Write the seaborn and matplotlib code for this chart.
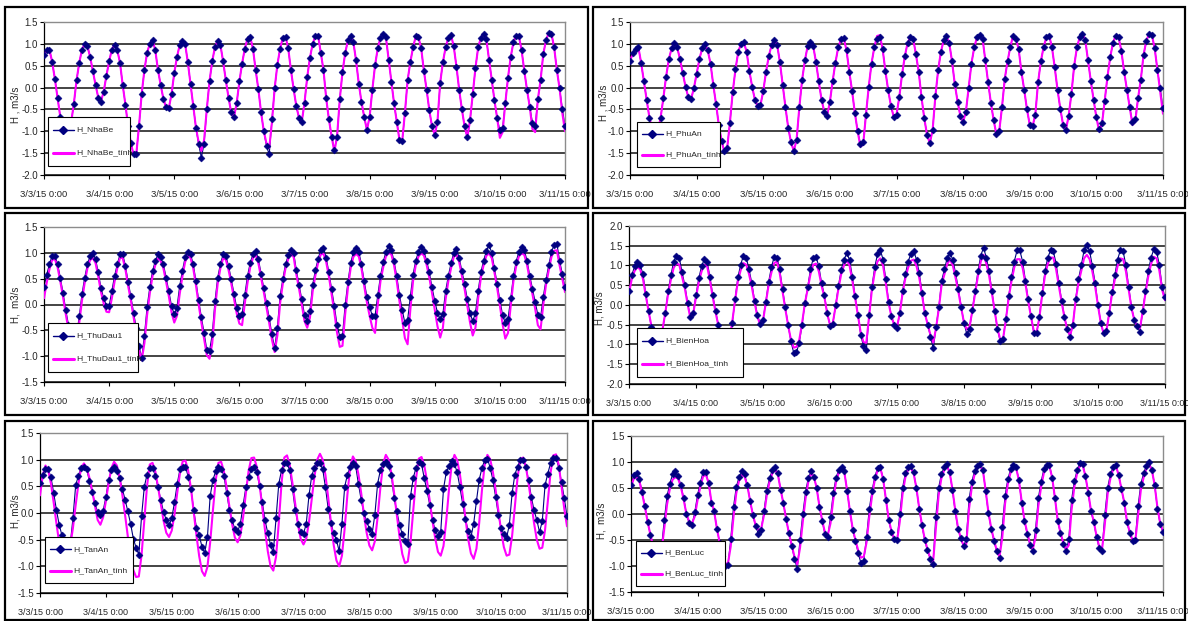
import numpy as np
import matplotlib
matplotlib.use("Agg")
import matplotlib.pyplot as plt
from matplotlib.lines import Line2D
from matplotlib.patches import Rectangle
from matplotlib import font_manager as fm
import seaborn as sns

# ---------------- data (hourly water levels, 3/3/15 0:00 .. 3/11/15 0:00) ----------------
date_labels = ["3/3/15 0:00", "3/4/15 0:00", "3/5/15 0:00", "3/6/15 0:00", "3/7/15 0:00",
               "3/8/15 0:00", "3/9/15 0:00", "3/10/15 0:00", "3/11/15 0:00"]
stations = ["NhaBe", "PhuAn", "ThuDau1", "BienHoa", "TanAn", "BenLuc"]

h_nhabe = [
    0.75, 0.85, 0.87, 0.59, 0.20, -0.24, -0.67, -0.95, -1.10, -1.05, -0.80, -0.37, 0.17, 0.57, 0.87, 1.00, 0.95, 0.70, 0.38, 0.06, -0.23, -0.32, -0.09, 0.27,
    0.60, 0.87, 0.98, 0.86, 0.57, 0.06, -0.39, -0.89, -1.27, -1.53, -1.53, -0.89, -0.14, 0.40, 0.80, 1.00, 1.08, 0.86, 0.40, 0.06, -0.26, -0.45, -0.47, -0.15,
    0.33, 0.70, 0.97, 1.07, 1.00, 0.58, 0.08, -0.43, -0.92, -1.30, -1.60, -1.28, -0.49, 0.15, 0.60, 0.93, 1.07, 0.98, 0.60, 0.17, -0.23, -0.57, -0.68, -0.36,
    0.14, 0.55, 0.89, 1.12, 1.16, 0.89, 0.40, -0.04, -0.57, -1.00, -1.34, -1.53, -0.73, -0.02, 0.52, 0.89, 1.14, 1.16, 0.90, 0.40, -0.04, -0.43, -0.70, -0.78,
    -0.35, 0.24, 0.68, 1.00, 1.17, 1.19, 0.79, 0.40, -0.25, -0.73, -1.12, -1.42, -1.12, -0.27, 0.36, 0.79, 1.08, 1.17, 1.04, 0.62, 0.09, -0.33, -0.67, -0.97,
    -0.67, -0.05, 0.51, 0.90, 1.14, 1.23, 1.15, 0.64, 0.13, -0.36, -0.78, -1.20, -1.23, -0.58, 0.17, 0.58, 0.92, 1.17, 1.15, 0.90, 0.38, -0.05, -0.52, -0.89,
    -1.08, -0.78, 0.11, 0.58, 0.92, 1.14, 1.20, 0.94, 0.48, -0.05, -0.50, -0.89, -1.14, -0.75, -0.15, 0.45, 0.92, 1.14, 1.23, 1.11, 0.64, 0.17, -0.29, -0.70,
    -0.98, -0.93, -0.36, 0.23, 0.70, 1.04, 1.19, 1.17, 0.86, 0.38, -0.05, -0.44, -0.80, -0.88, -0.27, 0.17, 0.77, 1.08, 1.25, 1.23, 0.92, 0.40, -0.02, -0.48,
    -0.88]
h_nhabe_tinh = [
    0.75, 0.85, 0.87, 0.59, 0.20, -0.24, -0.67, -0.95, -1.10, -1.05, -0.80, -0.37, 0.17, 0.57, 0.87, 1.00, 0.95, 0.70, 0.38, 0.06, -0.23, -0.32, -0.09, 0.27,
    0.60, 0.87, 0.98, 0.86, 0.57, 0.06, -0.39, -0.89, -1.27, -1.53, -1.53, -0.89, -0.14, 0.40, 0.80, 1.00, 1.08, 0.86, 0.40, 0.06, -0.26, -0.45, -0.47, -0.15,
    0.33, 0.70, 0.97, 1.07, 1.00, 0.58, 0.08, -0.43, -0.92, -1.25, -1.45, -1.20, -0.49, 0.15, 0.60, 0.93, 1.07, 0.98, 0.60, 0.17, -0.23, -0.57, -0.68, -0.36,
    0.14, 0.55, 0.89, 1.12, 1.16, 0.89, 0.40, -0.04, -0.57, -1.00, -1.28, -1.38, -0.80, -0.02, 0.52, 0.89, 1.14, 1.16, 0.90, 0.40, -0.04, -0.43, -0.70, -0.78,
    -0.35, 0.24, 0.68, 1.00, 1.17, 1.19, 0.79, 0.40, -0.25, -0.73, -1.12, -1.47, -1.12, -0.27, 0.36, 0.79, 1.08, 1.17, 1.04, 0.62, 0.09, -0.33, -0.67, -0.97,
    -0.67, -0.05, 0.51, 0.90, 1.14, 1.23, 1.15, 0.64, 0.13, -0.36, -0.78, -1.20, -1.23, -0.58, 0.17, 0.58, 0.92, 1.17, 1.15, 0.90, 0.38, -0.05, -0.52, -0.89,
    -1.08, -0.78, 0.11, 0.58, 0.92, 1.14, 1.20, 0.94, 0.48, -0.05, -0.50, -0.89, -1.14, -0.75, -0.15, 0.45, 0.92, 1.14, 1.23, 1.11, 0.64, 0.17, -0.29, -0.70,
    -1.15, -1.02, -0.36, 0.23, 0.70, 1.04, 1.19, 1.17, 0.86, 0.38, -0.05, -0.44, -0.95, -1.02, -0.27, 0.17, 0.77, 1.08, 1.25, 1.23, 0.92, 0.40, -0.02, -0.58,
    -1.00]

h_phuan = [
    0.60, 0.78, 0.88, 0.93, 0.57, 0.14, -0.28, -0.69, -0.95, -1.05, -1.00, -0.70, -0.25, 0.25, 0.65, 0.90, 1.02, 0.92, 0.65, 0.33, 0.02, -0.22, -0.26, -0.02,
    0.32, 0.65, 0.90, 1.00, 0.85, 0.55, 0.06, -0.38, -0.86, -1.22, -1.45, -1.38, -0.80, -0.10, 0.42, 0.82, 1.00, 1.04, 0.82, 0.38, 0.02, -0.28, -0.43, -0.40,
    -0.08, 0.36, 0.72, 0.97, 1.08, 0.98, 0.58, 0.06, -0.45, -0.92, -1.25, -1.45, -1.20, -0.45, 0.18, 0.62, 0.95, 1.04, 0.95, 0.58, 0.14, -0.28, -0.55, -0.64,
    -0.33, 0.15, 0.57, 0.92, 1.10, 1.13, 0.85, 0.36, -0.08, -0.58, -1.00, -1.28, -1.25, -0.62, 0.02, 0.55, 0.92, 1.12, 1.15, 0.88, 0.38, -0.06, -0.42, -0.67,
    -0.62, -0.22, 0.30, 0.72, 1.02, 1.15, 1.12, 0.76, 0.36, -0.22, -0.70, -1.08, -1.27, -0.98, -0.20, 0.40, 0.82, 1.08, 1.17, 1.02, 0.60, 0.08, -0.32, -0.65,
    -0.79, -0.55, 0.00, 0.55, 0.92, 1.15, 1.21, 1.12, 0.62, 0.12, -0.35, -0.75, -1.07, -1.00, -0.45, 0.20, 0.60, 0.93, 1.19, 1.12, 0.88, 0.36, -0.05, -0.50,
    -0.85, -0.89, -0.62, 0.12, 0.60, 0.93, 1.15, 1.19, 0.92, 0.46, -0.05, -0.48, -0.85, -0.98, -0.65, -0.15, 0.50, 0.92, 1.15, 1.23, 1.08, 0.62, 0.15, -0.28,
    -0.68, -0.94, -0.80, -0.30, 0.25, 0.70, 1.03, 1.19, 1.15, 0.84, 0.36, -0.05, -0.45, -0.79, -0.72, -0.25, 0.18, 0.75, 1.07, 1.23, 1.20, 0.90, 0.40, -0.02,
    -0.46]
h_phuan_tinh = [
    0.60, 0.78, 0.88, 0.93, 0.57, 0.14, -0.28, -0.69, -0.95, -1.05, -1.00, -0.70, -0.25, 0.25, 0.65, 0.90, 1.02, 0.92, 0.65, 0.33, 0.02, -0.22, -0.26, -0.02,
    0.32, 0.65, 0.90, 1.00, 0.85, 0.55, 0.06, -0.38, -0.86, -1.22, -1.48, -1.38, -0.80, -0.10, 0.42, 0.82, 1.00, 1.04, 0.82, 0.38, 0.02, -0.28, -0.43, -0.40,
    -0.08, 0.36, 0.72, 0.97, 1.08, 0.98, 0.58, 0.06, -0.45, -0.92, -1.25, -1.45, -1.20, -0.45, 0.18, 0.62, 0.95, 1.04, 0.95, 0.58, 0.14, -0.28, -0.55, -0.64,
    -0.33, 0.15, 0.57, 0.92, 1.10, 1.13, 0.85, 0.36, -0.08, -0.58, -1.00, -1.35, -1.30, -0.62, 0.02, 0.55, 0.92, 1.18, 1.20, 0.88, 0.38, -0.06, -0.42, -0.67,
    -0.62, -0.22, 0.30, 0.72, 1.02, 1.15, 1.12, 0.76, 0.36, -0.22, -0.70, -1.08, -1.27, -0.98, -0.20, 0.40, 0.82, 1.08, 1.17, 1.02, 0.60, 0.08, -0.32, -0.65,
    -0.79, -0.55, 0.00, 0.55, 0.92, 1.15, 1.21, 1.12, 0.62, 0.12, -0.35, -0.75, -1.07, -1.00, -0.45, 0.20, 0.60, 0.93, 1.19, 1.12, 0.88, 0.36, -0.05, -0.50,
    -0.85, -0.89, -0.62, 0.12, 0.60, 0.93, 1.15, 1.19, 0.92, 0.46, -0.05, -0.48, -0.85, -0.98, -0.65, -0.15, 0.50, 0.92, 1.15, 1.23, 1.08, 0.62, 0.15, -0.28,
    -0.68, -1.00, -0.85, -0.30, 0.25, 0.70, 1.03, 1.19, 1.15, 0.84, 0.36, -0.05, -0.45, -0.85, -0.78, -0.25, 0.18, 0.75, 1.07, 1.23, 1.20, 0.90, 0.40, -0.10,
    -0.60]

h_thudau1 = [
    0.34, 0.58, 0.78, 0.94, 0.94, 0.79, 0.52, 0.23, -0.10, -0.39, -0.62, -0.75, -0.60, -0.23, 0.20, 0.52, 0.78, 0.94, 0.99, 0.88, 0.62, 0.32, 0.12, -0.02,
    -0.03, 0.26, 0.55, 0.78, 0.97, 0.97, 0.75, 0.44, 0.16, -0.16, -0.45, -0.80, -1.04, -0.60, -0.05, 0.34, 0.65, 0.84, 0.97, 0.91, 0.78, 0.52, 0.26, -0.03,
    -0.19, -0.06, 0.36, 0.65, 0.91, 1.02, 0.97, 0.78, 0.45, 0.08, -0.25, -0.55, -0.88, -0.90, -0.58, 0.06, 0.52, 0.78, 0.97, 0.94, 0.75, 0.49, 0.21, -0.06,
    -0.23, -0.19, 0.19, 0.55, 0.81, 0.97, 1.04, 0.88, 0.60, 0.32, 0.03, -0.26, -0.58, -0.84, -0.45, 0.16, 0.49, 0.78, 0.95, 1.05, 1.00, 0.66, 0.38, 0.10,
    -0.20, -0.32, -0.12, 0.38, 0.66, 0.88, 1.06, 1.10, 0.90, 0.62, 0.30, -0.03, -0.40, -0.62, -0.60, 0.00, 0.43, 0.80, 1.01, 1.09, 1.02, 0.78, 0.45, 0.15,
    -0.05, -0.22, -0.22, 0.18, 0.55, 0.82, 1.02, 1.14, 1.05, 0.84, 0.55, 0.18, -0.10, -0.36, -0.30, 0.15, 0.58, 0.85, 1.02, 1.11, 1.03, 0.85, 0.62, 0.33,
    0.07, -0.16, -0.29, -0.18, 0.26, 0.55, 0.80, 1.00, 1.08, 0.90, 0.65, 0.40, 0.10, -0.17, -0.32, -0.17, 0.27, 0.62, 0.85, 1.03, 1.16, 1.00, 0.70, 0.40,
    0.08, -0.20, -0.36, -0.28, 0.12, 0.55, 0.83, 1.02, 1.11, 1.05, 0.85, 0.56, 0.30, 0.05, -0.20, -0.25, 0.15, 0.48, 0.76, 1.02, 1.15, 1.18, 0.85, 0.60,
    0.34]
h_thudau1_tinh = [
    0.12, 0.42, 0.68, 0.86, 0.88, 0.72, 0.45, 0.15, -0.18, -0.48, -0.72, -0.85, -0.72, -0.35, 0.08, 0.42, 0.70, 0.86, 0.90, 0.80, 0.54, 0.24, 0.02, -0.14,
    -0.15, 0.12, 0.44, 0.70, 0.90, 0.90, 0.68, 0.36, 0.08, -0.24, -0.55, -0.88, -1.08, -0.75, -0.20, 0.22, 0.55, 0.76, 0.89, 0.84, 0.70, 0.44, 0.16, -0.15,
    -0.35, -0.22, 0.20, 0.54, 0.82, 0.95, 0.90, 0.70, 0.37, 0.00, -0.35, -0.66, -0.98, -1.05, -0.75, -0.10, 0.40, 0.70, 0.89, 0.87, 0.67, 0.41, 0.12, -0.17,
    -0.37, -0.40, 0.02, 0.42, 0.72, 0.90, 0.96, 0.80, 0.52, 0.24, -0.06, -0.36, -0.68, -0.92, -0.60, 0.02, 0.40, 0.70, 0.88, 0.98, 0.92, 0.58, 0.30, 0.00,
    -0.32, -0.45, -0.26, 0.25, 0.56, 0.80, 0.97, 0.98, 0.82, 0.54, 0.20, -0.15, -0.55, -0.82, -0.80, -0.18, 0.32, 0.70, 0.92, 0.98, 0.93, 0.70, 0.36, 0.04,
    -0.22, -0.45, -0.55, 0.00, 0.45, 0.72, 0.93, 1.00, 0.97, 0.76, 0.45, 0.06, -0.30, -0.65, -0.77, -0.10, 0.45, 0.76, 0.93, 0.99, 0.95, 0.77, 0.52, 0.22,
    -0.10, -0.42, -0.64, -0.45, 0.10, 0.45, 0.70, 0.92, 0.97, 0.82, 0.56, 0.30, -0.02, -0.35, -0.60, -0.45, 0.12, 0.52, 0.76, 0.94, 0.99, 0.90, 0.62, 0.32,
    -0.02, -0.38, -0.66, -0.55, -0.02, 0.45, 0.74, 0.93, 0.99, 0.96, 0.77, 0.48, 0.20, -0.08, -0.40, -0.48, 0.00, 0.38, 0.66, 0.92, 1.04, 1.05, 0.76, 0.50,
    0.24]

h_bienhoa = [
    0.36, 0.75, 0.98, 1.09, 1.02, 0.78, 0.28, -0.15, -0.55, -0.90, -1.05, -0.95, -0.65, -0.20, 0.35, 0.75, 1.10, 1.25, 1.20, 0.83, 0.50, 0.05, -0.30, -0.20,
    0.26, 0.68, 0.98, 1.16, 1.10, 0.70, 0.25, -0.15, -0.50, -0.85, -1.10, -1.20, -0.95, -0.45, 0.15, 0.70, 1.02, 1.25, 1.20, 0.90, 0.55, 0.10, -0.25, -0.48,
    -0.38, 0.08, 0.58, 0.95, 1.22, 1.20, 0.90, 0.40, -0.06, -0.50, -0.92, -1.21, -1.20, -0.95, -0.50, 0.05, 0.45, 0.90, 1.18, 1.22, 0.98, 0.55, 0.25, -0.20,
    -0.52, -0.47, -0.01, 0.47, 0.89, 1.14, 1.31, 1.15, 0.72, 0.22, -0.25, -0.75, -1.05, -1.15, -0.25, 0.45, 0.95, 1.28, 1.40, 1.15, 0.65, 0.08, -0.28, -0.50,
    -0.58, -0.20, 0.35, 0.78, 1.10, 1.30, 1.36, 1.15, 0.80, 0.30, -0.20, -0.50, -0.80, -1.10, -0.55, -0.05, 0.62, 0.90, 1.20, 1.31, 1.15, 0.80, 0.40, -0.05,
    -0.45, -0.74, -0.60, -0.12, 0.35, 0.85, 1.25, 1.45, 1.20, 0.85, 0.35, -0.15, -0.62, -0.92, -0.85, -0.35, 0.22, 0.70, 1.10, 1.38, 1.38, 1.10, 0.62, 0.14,
    -0.28, -0.70, -0.72, -0.30, 0.30, 0.85, 1.20, 1.38, 1.36, 1.05, 0.55, 0.10, -0.30, -0.62, -0.80, -0.50, 0.15, 0.65, 1.00, 1.38, 1.52, 1.36, 0.98, 0.55,
    0.00, -0.45, -0.72, -0.65, -0.20, 0.32, 0.75, 1.15, 1.38, 1.36, 1.00, 0.45, -0.05, -0.38, -0.53, -0.68, -0.15, 0.35, 0.85, 1.20, 1.41, 1.35, 1.00, 0.45,
    0.21]
h_bienhoa_tinh = [
    0.30, 0.66, 0.86, 0.96, 0.90, 0.66, 0.24, -0.15, -0.52, -0.85, -1.00, -0.92, -0.62, -0.20, 0.28, 0.64, 0.94, 1.06, 1.02, 0.72, 0.42, 0.02, -0.34, -0.22,
    0.20, 0.58, 0.85, 1.02, 0.98, 0.62, 0.20, -0.18, -0.52, -0.84, -1.05, -1.10, -0.90, -0.42, 0.12, 0.60, 0.88, 1.06, 1.02, 0.78, 0.46, 0.06, -0.30, -0.50,
    -0.40, 0.05, 0.50, 0.82, 1.06, 1.10, 0.80, 0.34, -0.10, -0.52, -0.88, -1.08, -1.06, -0.88, -0.46, 0.04, 0.40, 0.78, 1.02, 1.05, 0.85, 0.48, 0.20, -0.22,
    -0.50, -0.46, -0.04, 0.40, 0.78, 1.00, 1.14, 1.00, 0.62, 0.18, -0.26, -0.70, -0.94, -0.96, -0.30, 0.38, 0.82, 1.10, 1.18, 1.00, 0.55, 0.05, -0.30, -0.50,
    -0.55, -0.22, 0.30, 0.68, 0.95, 1.12, 1.15, 0.98, 0.68, 0.24, -0.22, -0.50, -0.76, -0.95, -0.58, -0.08, 0.52, 0.78, 1.04, 1.15, 1.00, 0.68, 0.33, -0.07,
    -0.45, -0.62, -0.55, -0.14, 0.30, 0.74, 1.10, 1.27, 1.05, 0.74, 0.30, -0.16, -0.60, -0.88, -0.85, -0.38, 0.18, 0.60, 0.95, 1.16, 1.16, 0.94, 0.54, 0.10,
    -0.30, -0.66, -0.70, -0.32, 0.25, 0.74, 1.04, 1.20, 1.20, 0.90, 0.47, 0.06, -0.32, -0.62, -0.78, -0.50, 0.12, 0.56, 0.86, 1.18, 1.27, 1.16, 0.84, 0.46,
    -0.02, -0.45, -0.72, -0.66, -0.22, 0.27, 0.64, 0.98, 1.18, 1.16, 0.85, 0.38, -0.08, -0.38, -0.55, -0.60, -0.18, 0.30, 0.72, 1.04, 1.22, 1.18, 0.86, 0.38,
    0.12]

h_tanan = [
    0.57, 0.72, 0.82, 0.82, 0.67, 0.37, 0.05, -0.22, -0.42, -0.60, -0.72, -0.60, -0.10, 0.52, 0.70, 0.85, 0.87, 0.82, 0.60, 0.40, 0.18, 0.02, -0.04, 0.04,
    0.30, 0.62, 0.80, 0.86, 0.78, 0.65, 0.45, 0.25, 0.03, -0.20, -0.48, -0.65, -0.78, -0.06, 0.49, 0.72, 0.85, 0.85, 0.70, 0.48, 0.25, 0.02, -0.13, -0.23,
    -0.10, 0.20, 0.55, 0.82, 0.87, 0.87, 0.68, 0.45, 0.05, -0.28, -0.42, -0.63, -0.75, -0.45, 0.32, 0.62, 0.78, 0.86, 0.83, 0.70, 0.38, 0.06, -0.14, -0.30,
    -0.35, -0.20, 0.15, 0.48, 0.68, 0.82, 0.87, 0.76, 0.50, 0.20, -0.14, -0.38, -0.60, -0.74, -0.10, 0.55, 0.80, 0.93, 0.93, 0.80, 0.45, 0.05, -0.20, -0.35,
    -0.39, -0.20, 0.33, 0.70, 0.85, 0.94, 0.93, 0.82, 0.48, 0.08, -0.18, -0.38, -0.50, -0.72, -0.20, 0.49, 0.72, 0.86, 0.94, 0.88, 0.55, 0.25, 0.00, -0.15,
    -0.30, -0.39, -0.03, 0.55, 0.80, 0.92, 0.96, 0.88, 0.72, 0.28, 0.03, -0.22, -0.40, -0.52, -0.58, 0.32, 0.66, 0.85, 0.96, 0.92, 0.65, 0.42, 0.15, -0.14,
    -0.32, -0.43, -0.35, 0.45, 0.76, 0.88, 0.97, 0.92, 0.76, 0.48, 0.17, -0.12, -0.33, -0.45, -0.20, 0.22, 0.62, 0.84, 0.99, 1.02, 0.85, 0.62, 0.30, -0.04,
    -0.28, -0.40, -0.46, -0.22, 0.37, 0.72, 0.87, 1.00, 1.00, 0.86, 0.62, 0.30, 0.05, -0.13, -0.36, -0.15, 0.52, 0.74, 0.93, 1.04, 1.04, 0.85, 0.58, 0.28,
    -0.05]
h_tanan_tinh = [
    0.33, 0.70, 0.89, 0.80, 0.55, 0.19, -0.20, -0.56, -0.81, -0.90, -0.85, -0.62, -0.28, 0.15, 0.55, 0.85, 0.93, 0.85, 0.66, 0.42, 0.15, -0.13, -0.22, -0.08,
    0.22, 0.56, 0.84, 0.96, 0.89, 0.67, 0.34, -0.04, -0.44, -0.79, -1.07, -1.20, -1.19, -0.79, -0.14, 0.51, 0.91, 0.94, 0.78, 0.49, 0.17, -0.14, -0.37, -0.45,
    -0.33, -0.03, 0.38, 0.75, 0.97, 0.98, 0.79, 0.46, 0.02, -0.42, -0.81, -1.09, -1.18, -1.01, -0.55, 0.05, 0.61, 0.94, 0.96, 0.78, 0.48, 0.12, -0.21, -0.46,
    -0.55, -0.42, -0.08, 0.37, 0.79, 1.03, 1.04, 0.86, 0.53, 0.10, -0.33, -0.72, -1.00, -1.08, -0.82, -0.18, 0.56, 1.04, 1.08, 0.89, 0.55, 0.16, -0.22, -0.49,
    -0.59, -0.48, -0.17, 0.26, 0.69, 1.00, 1.11, 1.00, 0.71, 0.29, -0.18, -0.60, -0.89, -1.00, -0.80, -0.29, 0.35, 0.86, 1.06, 0.97, 0.73, 0.38, -0.02, -0.37,
    -0.61, -0.70, -0.53, -0.08, 0.47, 0.92, 1.09, 1.00, 0.75, 0.38, -0.04, -0.45, -0.77, -0.94, -0.91, -0.54, 0.06, 0.65, 1.02, 1.05, 0.89, 0.60, 0.23, -0.15,
    -0.48, -0.73, -0.80, -0.62, -0.15, 0.44, 0.91, 1.09, 0.99, 0.72, 0.33, -0.10, -0.49, -0.76, -0.86, -0.67, -0.19, 0.42, 0.90, 1.09, 1.01, 0.77, 0.43, 0.04,
    -0.34, -0.64, -0.80, -0.78, -0.43, 0.12, 0.67, 1.01, 1.04, 0.87, 0.56, 0.19, -0.19, -0.50, -0.67, -0.65, -0.32, 0.22, 0.75, 1.08, 1.10, 0.90, 0.50, 0.08,
    -0.25]

h_benluc = [
    0.56, 0.75, 0.78, 0.68, 0.42, 0.16, -0.15, -0.40, -0.62, -0.80, -0.90, -0.65, -0.12, 0.34, 0.58, 0.76, 0.83, 0.74, 0.55, 0.31, 0.00, -0.17, -0.22, 0.03,
    0.36, 0.60, 0.80, 0.80, 0.60, 0.22, 0.06, -0.28, -0.55, -0.80, -1.00, -0.98, -0.48, 0.14, 0.52, 0.71, 0.82, 0.76, 0.55, 0.25, -0.02, -0.24, -0.38, -0.30,
    0.06, 0.45, 0.69, 0.84, 0.90, 0.78, 0.47, 0.21, -0.10, -0.37, -0.61, -0.86, -1.05, -0.50, 0.00, 0.42, 0.70, 0.82, 0.72, 0.50, 0.14, -0.13, -0.38, -0.45,
    -0.05, 0.40, 0.70, 0.85, 0.91, 0.82, 0.45, 0.05, -0.30, -0.52, -0.75, -0.95, -0.90, -0.45, 0.10, 0.45, 0.72, 0.88, 0.91, 0.67, 0.27, -0.12, -0.35, -0.48,
    -0.50, 0.00, 0.50, 0.78, 0.90, 0.93, 0.80, 0.50, 0.10, -0.22, -0.50, -0.70, -0.86, -0.97, -0.05, 0.50, 0.76, 0.90, 0.97, 0.80, 0.47, 0.05, -0.28, -0.47,
    -0.62, -0.49, 0.28, 0.62, 0.83, 0.93, 0.97, 0.85, 0.44, 0.01, -0.28, -0.52, -0.72, -0.84, -0.25, 0.35, 0.67, 0.86, 0.95, 0.90, 0.65, 0.22, -0.14, -0.38,
    -0.60, -0.71, -0.30, 0.30, 0.62, 0.86, 0.95, 0.95, 0.70, 0.30, -0.14, -0.37, -0.57, -0.71, -0.49, 0.27, 0.63, 0.84, 0.99, 0.97, 0.73, 0.41, 0.05, -0.15,
    -0.44, -0.66, -0.71, -0.01, 0.50, 0.76, 0.91, 0.95, 0.75, 0.48, 0.22, -0.16, -0.37, -0.52, -0.50, 0.15, 0.58, 0.78, 0.93, 1.00, 0.85, 0.55, 0.10, -0.20,
    -0.35]
h_benluc_tinh = [
    0.52, 0.68, 0.71, 0.64, 0.40, 0.14, -0.15, -0.40, -0.62, -0.80, -0.88, -0.72, -0.28, 0.18, 0.48, 0.66, 0.71, 0.68, 0.52, 0.28, 0.00, -0.15, -0.18, -0.05,
    0.26, 0.52, 0.72, 0.76, 0.60, 0.25, 0.05, -0.28, -0.55, -0.78, -0.95, -0.95, -0.62, -0.05, 0.40, 0.64, 0.75, 0.72, 0.54, 0.25, -0.02, -0.22, -0.31, -0.28,
    -0.02, 0.36, 0.62, 0.78, 0.85, 0.76, 0.47, 0.20, -0.10, -0.37, -0.60, -0.82, -0.97, -0.65, -0.15, 0.30, 0.62, 0.78, 0.72, 0.50, 0.15, -0.12, -0.36, -0.41,
    -0.18, 0.28, 0.62, 0.80, 0.88, 0.80, 0.45, 0.06, -0.28, -0.50, -0.70, -0.84, -0.82, -0.55, -0.05, 0.35, 0.66, 0.84, 0.88, 0.67, 0.28, -0.10, -0.33, -0.48,
    -0.52, -0.15, 0.38, 0.70, 0.85, 0.88, 0.78, 0.50, 0.12, -0.20, -0.48, -0.68, -0.85, -0.94, -0.30, 0.35, 0.68, 0.84, 0.92, 0.80, 0.48, 0.08, -0.26, -0.46,
    -0.60, -0.58, 0.10, 0.52, 0.76, 0.88, 0.92, 0.84, 0.45, 0.03, -0.27, -0.50, -0.70, -0.82, -0.45, 0.20, 0.58, 0.80, 0.90, 0.88, 0.65, 0.24, -0.12, -0.36,
    -0.57, -0.68, -0.45, 0.15, 0.52, 0.79, 0.90, 0.92, 0.70, 0.31, -0.12, -0.36, -0.55, -0.68, -0.60, 0.08, 0.52, 0.78, 0.93, 0.94, 0.73, 0.42, 0.07, -0.14,
    -0.42, -0.63, -0.68, -0.20, 0.38, 0.68, 0.86, 0.92, 0.75, 0.48, 0.23, -0.14, -0.35, -0.50, -0.52, -0.02, 0.46, 0.70, 0.88, 0.95, 0.84, 0.55, 0.12, -0.18,
    -0.33]

# ---------------- style ----------------
sns.set_style("white")
plt.rcParams["font.family"] = ["Liberation Sans", "DejaVu Sans"]
_names = {f.name for f in fm.fontManager.ttflist}
HAS_NARROW = "Liberation Sans Narrow" in _names
if HAS_NARROW:
    LEG_FAMILY, LEG_SIZE = ["Liberation Sans Narrow", "DejaVu Sans"], 7.2
    NARROW_TICK = (["Liberation Sans Narrow", "DejaVu Sans"], 7.4)
else:
    LEG_FAMILY, LEG_SIZE = ["Liberation Sans", "DejaVu Sans"], 6.1
    NARROW_TICK = (["Liberation Sans", "DejaVu Sans"], 6.5)

NAVY = "#000080"
MAGENTA = "#FF00FF"
W, H = 1188, 621
fig = plt.figure(figsize=(W / 100, H / 100), dpi=100)
fig.patch.set_facecolor("white")

series_obs = [h_nhabe, h_phuan, h_thudau1, h_bienhoa, h_tanan, h_benluc]
series_sim = [h_nhabe_tinh, h_phuan_tinh, h_thudau1_tinh, h_bienhoa_tinh, h_tanan_tinh, h_benluc_tinh]

# layout in pixels: axes box, outer frame, legend box, y-limits, y-label (text, x, y), condensed x labels
layout = [
    dict(ax=(44, 22, 565, 175), frame=(5, 7, 588, 208), leg=(48, 117, 130, 166), ylim=(-2.0, 1.5), ylab=("H , m3/s", 15, 105), narrow=False),
    dict(ax=(630, 22, 1163, 175), frame=(593, 7, 1185, 208), leg=(637, 122, 720, 167), ylim=(-2.0, 1.5), ylab=("H , m3/s", 603, 103), narrow=False),
    dict(ax=(44, 227, 565, 382), frame=(5, 213, 588, 415), leg=(48, 323, 138, 372), ylim=(-1.5, 1.5), ylab=("H,  m3/s", 15, 305), narrow=False),
    dict(ax=(629, 226, 1165, 384), frame=(593, 213, 1185, 415), leg=(637, 328, 743, 377), ylim=(-2.0, 2.0), ylab=("H, m3/s", 600, 308), narrow=True),
    dict(ax=(40, 433, 567, 593), frame=(5, 421, 588, 620), leg=(45, 537, 133, 583), ylim=(-1.5, 1.5), ylab=("H, m3/s", 15, 511), narrow=True),
    dict(ax=(631, 436, 1163, 592), frame=(593, 421, 1185, 620), leg=(636, 541, 725, 586), ylim=(-1.5, 1.5), ylab=("H,  m3/s", 602, 521), narrow=False),
]


def fx(x):
    return x / W


def fy(y):
    return 1 - y / H


for name, obs, sim, cfg in zip(stations, series_obs, series_sim, layout):
    l, t, r, b = cfg["ax"]
    ax = fig.add_axes([fx(l), fy(b), (r - l) / W, (b - t) / H])
    ax.set_facecolor("white")
    hrs_o = np.arange(len(obs))
    hrs_s = np.arange(len(sim))
    sns.lineplot(x=hrs_o, y=obs, ax=ax, color=NAVY, linewidth=0.8, zorder=2)
    sns.lineplot(x=hrs_s, y=sim, ax=ax, color=MAGENTA, linewidth=1.5, zorder=3)
    sns.scatterplot(x=hrs_o, y=obs, ax=ax, marker="D", s=13, color=NAVY,
                    edgecolor=NAVY, linewidth=0.3, zorder=4, legend=False)

    y0, y1 = cfg["ylim"]
    ax.set_xlim(0, 192)
    ax.set_ylim(y0, y1)
    ax.set_xticks(np.arange(0, 193, 24))
    if cfg["narrow"]:
        fam, fs = NARROW_TICK
        ax.set_xticklabels(date_labels, family=fam, fontsize=fs)
    else:
        ax.set_xticklabels(date_labels, fontsize=6.8)
    yt = np.arange(y0, y1 + 0.001, 0.5)
    ax.set_yticks(yt)
    ax.set_yticklabels([f"{v:.1f}" for v in yt], fontsize=7)
    ax.set_xlabel("")
    ax.set_ylabel("")
    ax.tick_params(axis="x", direction="out", length=3, width=0.8, color="black",
                   pad=8, bottom=True)
    ax.tick_params(axis="y", direction="out", length=3, width=0.8, color="black",
                   pad=1.5, left=True)
    ax.set_axisbelow(True)
    ax.grid(axis="y", color="#111111", linewidth=1.1)
    ax.grid(axis="x", visible=False)
    for side in ("left", "bottom"):
        ax.spines[side].set_color("black")
        ax.spines[side].set_linewidth(0.9)
    for side in ("top", "right"):
        ax.spines[side].set_color("#8c8c8c")
        ax.spines[side].set_linewidth(1.0)

    # y label
    txt, xl, yl = cfg["ylab"]
    fig.text(fx(xl), fy(yl), txt, rotation=90, ha="center", va="center", fontsize=7)

    # legend box (drawn as in the spreadsheet chart)
    lx0, ly0, lx1, ly1 = cfg["leg"]
    fig.add_artist(Rectangle((fx(lx0), fy(ly1)), (lx1 - lx0) / W, (ly1 - ly0) / H,
                             transform=fig.transFigure, facecolor="white",
                             edgecolor="black", linewidth=0.8, zorder=10))
    hgt = ly1 - ly0
    entries = [(f"H_{name}", "obs"), (f"H_{name}_tính", "sim")]
    for i, (lab, kind) in enumerate(entries):
        yc = ly0 + hgt * (0.27 if i == 0 else 0.73)
        xa, xb = lx0 + 4.5, lx0 + 26
        if kind == "obs":
            fig.add_artist(Line2D([fx(xa), fx(xb)], [fy(yc), fy(yc)], transform=fig.transFigure,
                                  color=NAVY, linewidth=1.0, zorder=11))
            fig.add_artist(Line2D([fx((xa + xb) / 2)], [fy(yc)], transform=fig.transFigure,
                                  marker="D", markersize=4.3, color=NAVY, linestyle="none", zorder=12))
        else:
            fig.add_artist(Line2D([fx(xa), fx(xb)], [fy(yc), fy(yc)], transform=fig.transFigure,
                                  color=MAGENTA, linewidth=2.2, zorder=11))
        fig.text(fx(lx0 + 28.5), fy(yc), lab, ha="left", va="center", fontsize=LEG_SIZE,
                 family=LEG_FAMILY, zorder=12)

    # outer chart frame
    fx0, fy0, fx1, fy1 = cfg["frame"]
    fig.add_artist(Rectangle((fx(fx0), fy(fy1)), (fx1 - fx0) / W, (fy1 - fy0) / H,
                             transform=fig.transFigure, fill=False, edgecolor="black",
                             linewidth=1.6, zorder=20))

fig.savefig("out.png", dpi=100, facecolor="white")
